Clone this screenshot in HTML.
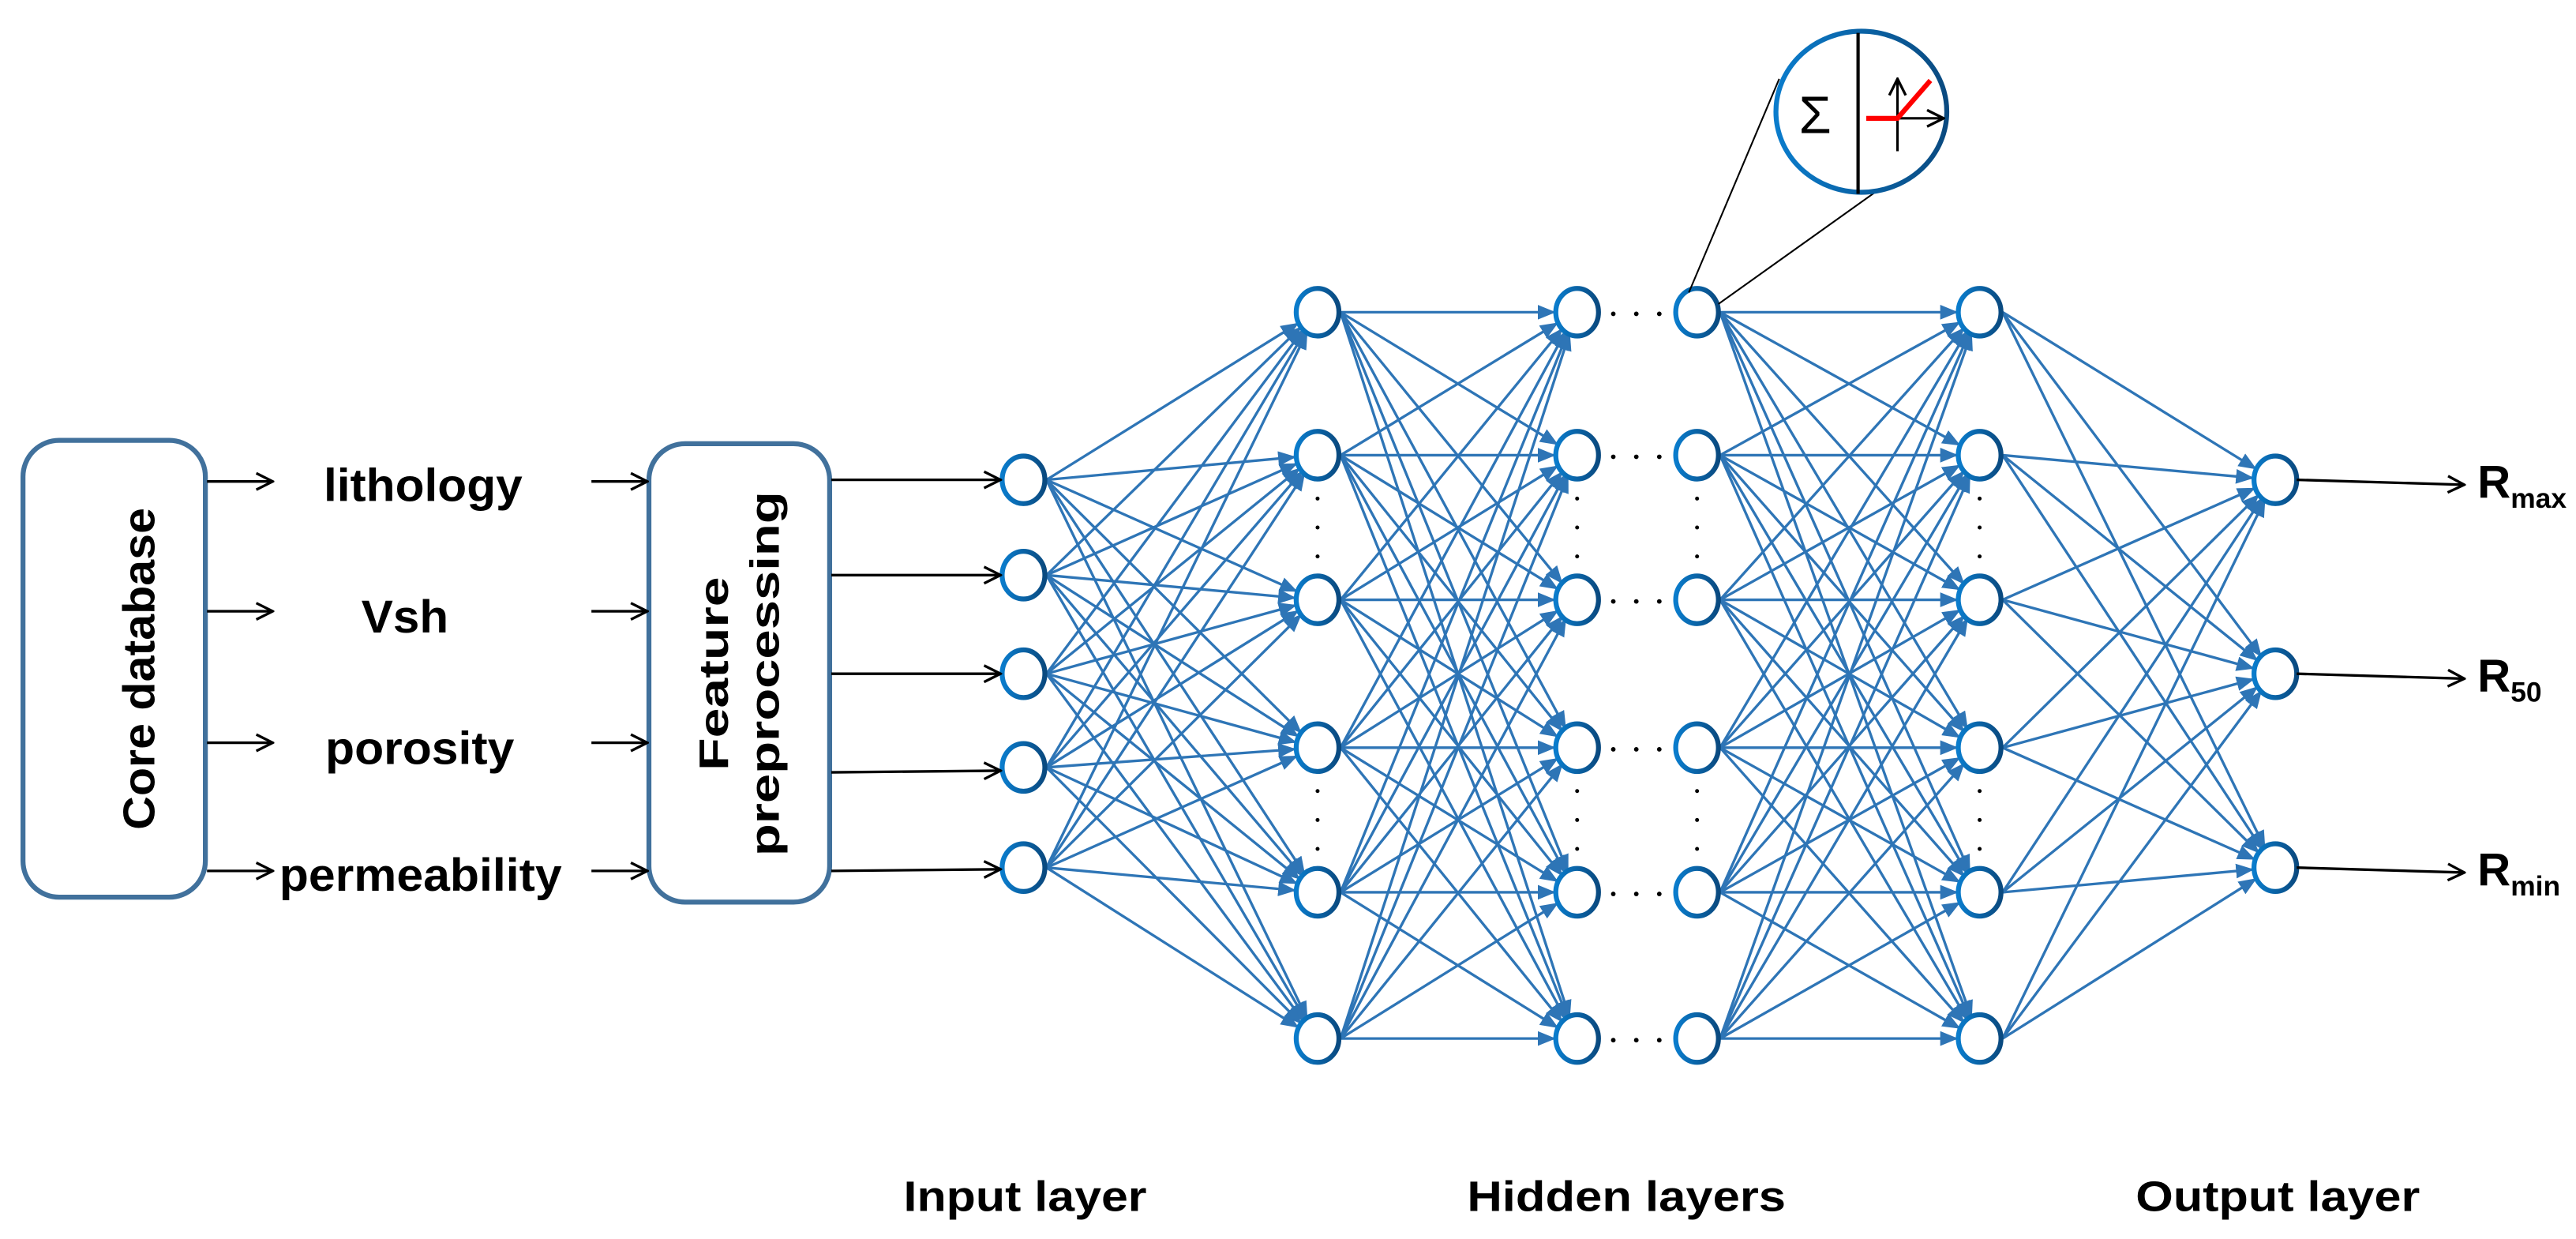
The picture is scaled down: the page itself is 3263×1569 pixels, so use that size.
<!DOCTYPE html>
<html><head><meta charset="utf-8"><style>
html,body{margin:0;padding:0;background:#fff;}
svg{display:block;}
text{font-family:"Liberation Sans",Arial,sans-serif;font-weight:bold;fill:#000;}
</style></head><body>
<svg id="s" width="3263" height="1569" viewBox="0 0 1568 754" preserveAspectRatio="none" xmlns="http://www.w3.org/2000/svg">
<defs>
<marker id="ab" markerWidth="11" markerHeight="9" refX="10" refY="4.5" orient="auto" markerUnits="userSpaceOnUse"><path d="M0,0 L11,4.5 L0,9 Z" fill="#2e75b6"/></marker>
<marker id="ak" markerWidth="12" markerHeight="12" refX="11" refY="6" orient="auto" markerUnits="userSpaceOnUse"><path d="M1,1 L11,6 L1,11" fill="none" stroke="#000" stroke-width="1.6"/></marker>
<linearGradient id="ng" x1="0" x2="1"><stop offset="0" stop-color="#0a7ccc"/><stop offset="1" stop-color="#0a4a80"/></linearGradient>
</defs>
<g id="lines" stroke="#2e75b6" stroke-width="1.6"></g>
<g id="nodes"></g>
<g id="misc"></g>
<rect x="14" y="268" width="111" height="278" rx="22" fill="#fff" stroke="#41719c" stroke-width="3"/>
<text transform="translate(94,407) rotate(-90)" text-anchor="middle" font-size="27" textLength="196" lengthAdjust="spacingAndGlyphs">Core database</text>
<rect x="395" y="270" width="110" height="279" rx="22" fill="#fff" stroke="#41719c" stroke-width="3"/>
<text transform="translate(443,410) rotate(-90)" text-anchor="middle" font-size="25" textLength="118" lengthAdjust="spacingAndGlyphs">Feature</text>
<text transform="translate(474,410) rotate(-90)" text-anchor="middle" font-size="25" textLength="222" lengthAdjust="spacingAndGlyphs">preprocessing</text>
<g stroke="#000" stroke-width="1.6" marker-end="url(#ak)">
<line x1="126" y1="293" x2="166" y2="293"/>
<line x1="126" y1="372" x2="166" y2="372"/>
<line x1="126" y1="452" x2="166" y2="452"/>
<line x1="126" y1="530" x2="166" y2="530"/>
<line x1="360" y1="293" x2="394" y2="293"/>
<line x1="360" y1="372" x2="394" y2="372"/>
<line x1="360" y1="452" x2="394" y2="452"/>
<line x1="360" y1="530" x2="394" y2="530"/>
<line x1="506" y1="292" x2="609" y2="292"/>
<line x1="506" y1="350" x2="609" y2="350"/>
<line x1="506" y1="410" x2="609" y2="410"/>
<line x1="506" y1="470" x2="609" y2="469"/>
<line x1="506" y1="530" x2="609" y2="529"/>
<line x1="1398" y1="292" x2="1500" y2="295"/>
<line x1="1398" y1="410" x2="1500" y2="413"/>
<line x1="1398" y1="528" x2="1500" y2="531"/>
</g>
<text x="197" y="305" font-size="28" textLength="121" lengthAdjust="spacingAndGlyphs">lithology</text>
<text x="220" y="385" font-size="28" textLength="53" lengthAdjust="spacingAndGlyphs">Vsh</text>
<text x="198" y="465" font-size="28" textLength="115" lengthAdjust="spacingAndGlyphs">porosity</text>
<text x="170" y="542" font-size="28" textLength="172" lengthAdjust="spacingAndGlyphs">permeability</text>
<text x="1508" y="303" font-size="28">R<tspan font-size="17" dy="6">max</tspan></text>
<text x="1508" y="421" font-size="28">R<tspan font-size="17" dy="6">50</tspan></text>
<text x="1508" y="539" font-size="28">R<tspan font-size="17" dy="6">min</tspan></text>
<text x="550" y="737" font-size="26" textLength="148" lengthAdjust="spacingAndGlyphs">Input layer</text>
<text x="893" y="737" font-size="26" textLength="194" lengthAdjust="spacingAndGlyphs">Hidden layers</text>
<text x="1300" y="737" font-size="26" textLength="173" lengthAdjust="spacingAndGlyphs">Output layer</text>
<line x1="1028" y1="178" x2="1083" y2="48" stroke="#000" stroke-width="1"/>
<line x1="1046" y1="185" x2="1168" y2="98" stroke="#000" stroke-width="1"/>
<ellipse cx="1133" cy="68" rx="52" ry="49" fill="#fff" stroke="url(#ng)" stroke-width="3"/>
<line x1="1131" y1="20" x2="1131" y2="118" stroke="#000" stroke-width="2"/>
<text x="1095" y="81" font-size="32" style="font-weight:normal">Σ</text>
<line x1="1155" y1="92" x2="1155" y2="48" stroke="#000" stroke-width="1.5" marker-end="url(#ak)"/>
<line x1="1136" y1="72" x2="1183" y2="72" stroke="#000" stroke-width="1.5" marker-end="url(#ak)"/>
<polyline points="1136,72 1155,72 1175,49" fill="none" stroke="#f00" stroke-width="3"/>
</svg>
<script>
var NS="http://www.w3.org/2000/svg";
var H=[190,277,365,455,543,632];
var L=[{x:623,y:[292,350,410,467,528]},{x:802,y:H},{x:960,y:H},{x:1033,y:H},{x:1205,y:H},{x:1385,y:[292,410,528]}];
var lines=document.getElementById('lines'),nodes=document.getElementById('nodes'),misc=document.getElementById('misc');
function el(t,a,p){var e=document.createElementNS(NS,t);for(var k in a)e.setAttribute(k,a[k]);p.appendChild(e);return e;}
var pairs=[[0,1],[1,2],[3,4],[4,5]];
pairs.forEach(function(p){var A=L[p[0]],B=L[p[1]];A.y.forEach(function(ya){B.y.forEach(function(yb){
var dx=B.x-A.x,dy=yb-ya,d=Math.sqrt(dx*dx+dy*dy);var r=14;
el('line',{x1:A.x+14,y1:ya,x2:B.x-r*dx/d,y2:yb-r*dy/d,'marker-end':'url(#ab)'},lines);});});});
L.forEach(function(l){l.y.forEach(function(y){el('ellipse',{cx:l.x,cy:y,rx:13,ry:14.5,fill:'#fff',stroke:'url(#ng)','stroke-width':3},nodes);});});
H.forEach(function(y){[982,996,1010].forEach(function(x){el('circle',{cx:x,cy:y+1,r:1.4,fill:'#000'},misc);});});
[802,960,1033,1205].forEach(function(x){[[277,365],[455,543]].forEach(function(r){[0.3,0.5,0.7].forEach(function(f){el('circle',{cx:x,cy:r[0]+(r[1]-r[0])*f,r:1.2,fill:'#000'},misc);});});});
</script>
</body></html>
